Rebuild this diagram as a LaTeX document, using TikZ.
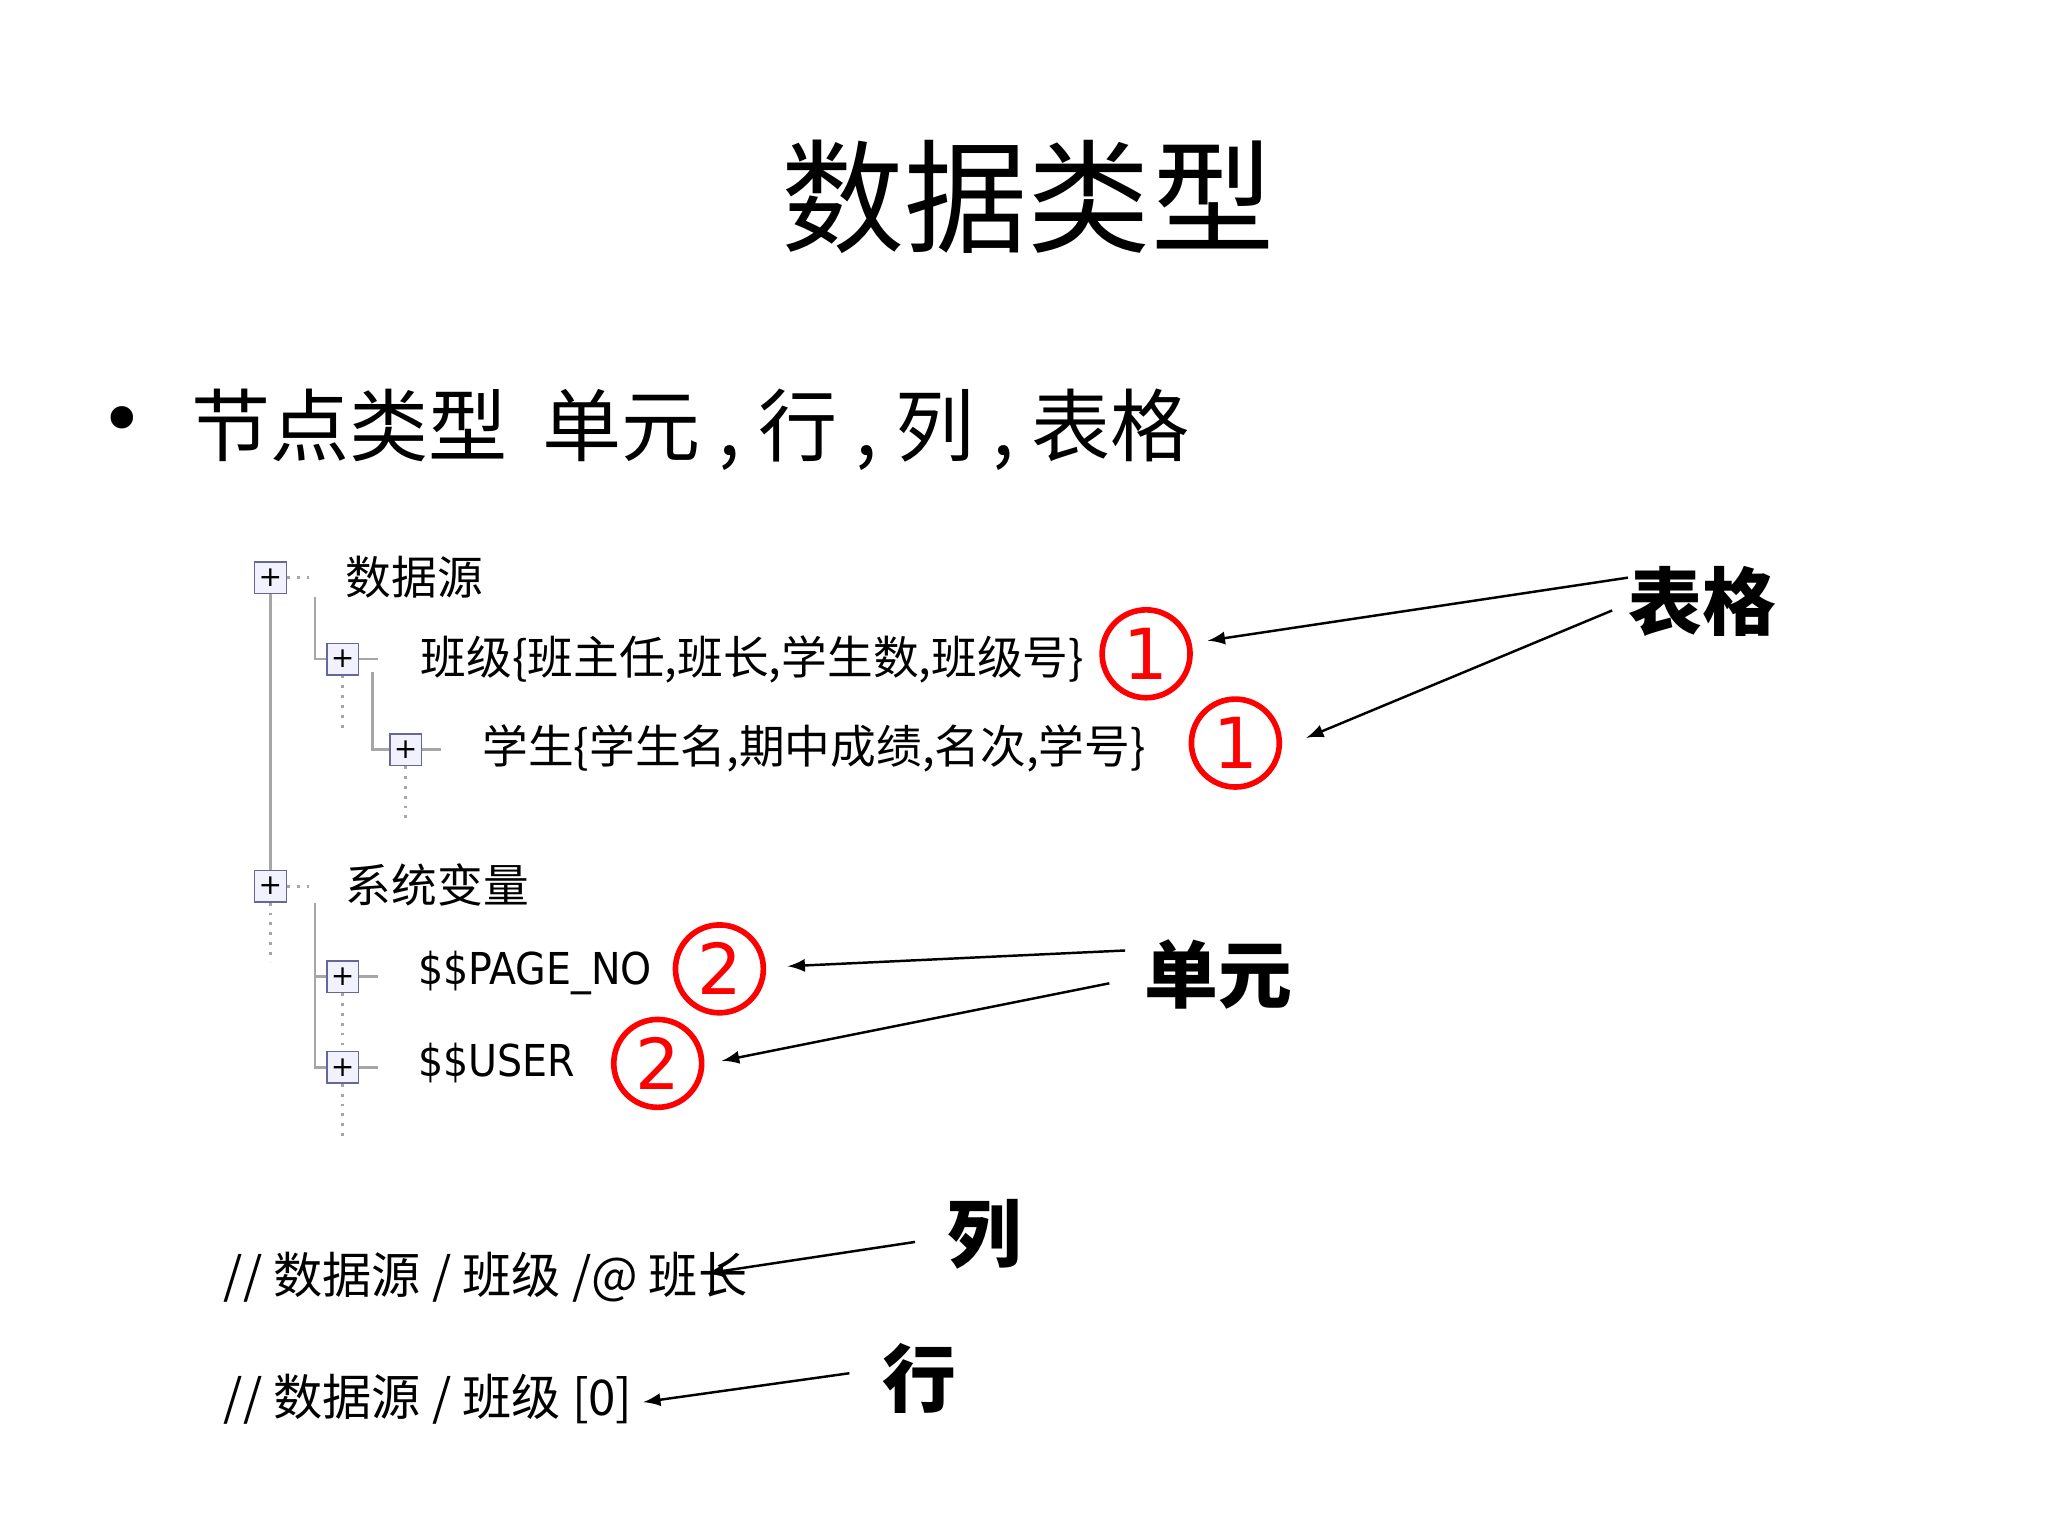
\documentclass[tikz,border=0pt]{standalone}
\usepackage{fontspec}
\setmainfont{DejaVu Sans}
\newfontfamily\cjk{Noto Sans CJK SC}
\newfontfamily\lat{DejaVu Sans Condensed}
\begin{document}
\begin{tikzpicture}[x=0.013128cm,y=-0.013128cm,
  tree/.style={draw=gray!70,line width=0.8pt},
  dots/.style={draw=gray!70,dotted,line width=0.8pt},
  icon/.style={draw=gray!80!blue,fill=blue!5,minimum size=9pt,inner sep=0pt,font=\fontsize{8}{8}\selectfont,text=black},
  tt/.style={anchor=west,inner sep=0pt,font=\cjk\fontsize{13}{13}\selectfont},
  circ/.style={circle,draw=red,line width=1.6pt,minimum size=25pt,inner sep=0pt,text=red,font=\fontsize{20}{20}\selectfont},
  lab/.style={inner sep=0pt,font=\cjk\bfseries\fontsize{21}{21}\selectfont},
  arr/.style={-latex,line width=0.7pt},
  bt/.style={anchor=west,inner sep=0pt,font=\cjk\fontsize{14}{14}\selectfont}]
\useasboundingbox[fill=white] (0,0) rectangle (1560,1170);
\node[font=\cjk\fontsize{35}{35}\selectfont] (title) at (783,150) {数据类型};
\node[font=\fontsize{22}{22}\selectfont] (bul) at (93,325) {•};
\node[anchor=west,inner sep=0pt,font=\cjk\fontsize{22.5}{22.5}\selectfont] (sub) at (145,327) {节点类型\ \ 单元 , 行 , 列 , 表格};
% tree
\node[icon] (i1) at (206,440) {+};
\node[icon] (i2) at (261,502) {+};
\node[icon] (i3) at (309,571) {+};
\node[icon] (i4) at (206,675) {+};
\node[icon] (i5) at (261,744) {+};
\node[icon] (i6) at (261,813) {+};
\draw[tree] (i1) -- (i4);
\draw[dots] (i4.south) -- ++(0,45);
\draw[dots] (i1.east) -- ++(18,0);
\draw[dots] (i4.east) -- ++(18,0);
\coordinate (a1) at (240,455);
\coordinate (a2) at (284,512);
\coordinate (a3) at (240,688);
\draw[tree] (a1) |- (i2.west);
\draw[tree] (i2.east) -- ++(14,0);
\draw[tree] (a2) |- (i3.west);
\draw[tree] (i3.east) -- ++(14,0);
\draw[dots] (i2.south) -- ++(0,42);
\draw[dots] (i3.south) -- ++(0,42);
\draw[tree] (a3) |- (i5.west);
\draw[tree] (a3) |- (i6.west);
\draw[tree] (i5.east) -- ++(14,0);
\draw[tree] (i6.east) -- ++(14,0);
\draw[dots] (i5.south) -- ++(0,40);
\draw[dots] (i6.south) -- ++(0,42);
\node[tt] (t1) at (263,440) {数据源};
\node[tt] (t2) at (320,502) {班级\{班主任,班长,学生数,班级号\}};
\node[tt] (t3) at (367,570) {学生\{学生名,期中成绩,名次,学号\}};
\node[tt] (t4) at (263,674) {系统变量};
\node[tt,font=\lat\fontsize{12.5}{12.5}\selectfont] (t5) at (318,741) {\$\$PAGE\_NO};
\node[tt,font=\lat\fontsize{12.5}{12.5}\selectfont] (t6) at (318,810) {\$\$USER};
\node[circ] (c1) at (873,498) {1};
\node[circ] (c2) at (941,566) {1};
\node[circ] (c3) at (548,738) {2};
\node[circ] (c4) at (501,810) {2};
\node[lab] (l1) at (1297,458) {表格};
\node[lab] (l2) at (928,742) {单元};
\node[lab] (l3) at (750,940) {列};
\node[lab] (l4) at (700,1050) {行};
\coordinate (s1) at (1240,440); \coordinate (e1) at (920,488);
\coordinate (s2) at (1228,465); \coordinate (e2) at (995,562);
\coordinate (s3) at (857,724); \coordinate (e3) at (600,736);
\coordinate (s4) at (845,749); \coordinate (e4) at (550,808);
\coordinate (s5) at (697,946); \coordinate (e5) at (538,970);
\coordinate (s6) at (647,1046); \coordinate (e6) at (490,1068);
\foreach \i in {1,...,6} \draw[arr] (s\i) -- (e\i);
\node[bt] (b1) at (170,973) {// 数据源 / 班级 /@ 班长};
\node[bt] (b2) at (170,1066) {// 数据源 / 班级 [0]};
\end{tikzpicture}
\end{document}
